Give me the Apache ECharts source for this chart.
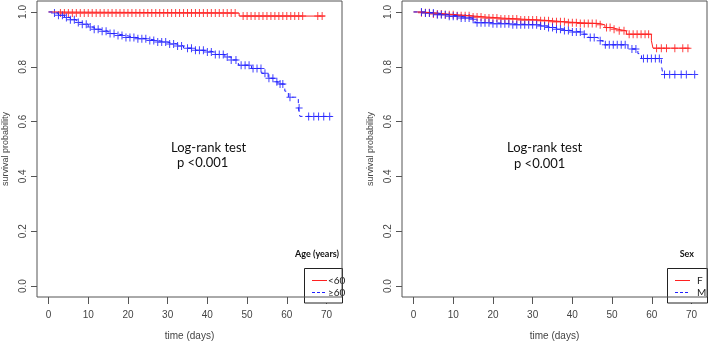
<!DOCTYPE html>
<html>
<head>
<meta charset="utf-8">
<script src="https://cdn.jsdelivr.net/npm/echarts@6/dist/echarts.min.js"></script>
<style>
  html, body { margin: 0; padding: 0; background: #fff; }
  #main { width: 708px; height: 346px; }
</style>
</head>
<body>
<div id="main"></div>
<script>
// --- data ---
var xTicks = [0, 10, 20, 30, 40, 50, 60, 70];
var yTicks = [0, 0.2, 0.4, 0.6, 0.8, 1.0];

// left panel: age groups
var ageLowTimes = [0, 3, 48];
var ageLowSurv = [1, 0.996, 0.985];
var ageLowEnd = 69.6;
var ageLowCensor = [3, 4, 5, 6, 7, 8, 9, 10, 11, 12, 13, 14, 15, 16, 17, 18, 19, 20, 21, 22, 23, 24, 25,
    26, 27, 28, 29, 30, 31, 32, 33, 34, 35, 36, 37, 38, 39, 40, 41, 42, 43, 44, 45, 46, 47, 49, 50, 51,
    52, 53, 54, 55, 56, 57, 58, 59, 60, 61, 62, 63, 64, 67.8, 68.9];

var ageHighTimes = [0, 1, 2.5, 4, 5.5, 7, 8.5, 10, 11.5, 13, 15, 17, 19.5, 22, 25, 27.5, 30, 32.5, 34,
    37, 39.4, 42, 44.4, 46, 47.8, 51.1, 53.7, 55.3, 57, 57.8, 59.5, 60.4, 62.9, 63.3];
var ageHighSurv = [1, 0.996, 0.988, 0.98, 0.972, 0.962, 0.955, 0.945, 0.937, 0.93, 0.921, 0.914, 0.907,
    0.902, 0.896, 0.89, 0.883, 0.876, 0.868, 0.86, 0.854, 0.845, 0.836, 0.825, 0.806, 0.794, 0.776,
    0.758, 0.745, 0.737, 0.711, 0.689, 0.65, 0.619];
var ageHighEnd = 71.3;
var ageHighCensor = [1.5, 2.5, 3.5, 4.5, 5.5, 6.5, 7.5, 8.5, 9.5, 10.5, 11.5, 12.5, 13.5, 14.5, 15.5,
    16.5, 17.5, 18.5, 19.5, 20.5, 21.5, 22.5, 23.5, 24.5, 25.5, 26.5, 27.5, 28.5, 29.5, 30.5, 31.5, 32.5,
    33.5, 35, 36, 37, 38, 39, 40, 41, 42, 43, 44, 45, 46, 47.2, 48.5, 49.5, 50.5, 51.5, 52.5, 53.5, 54.5,
    55.5, 56.5, 57.5, 58.3, 59, 60.8, 63.1, 65.5, 66.8, 68, 69.3, 70.8];

// right panel: sex
var sexFTimes = [0, 2, 5, 8, 11, 14.5, 18, 22, 27, 31.4, 35, 38.1, 42, 46.9, 48.2, 50, 51.5, 53.6, 59.9, 60.3];
var sexFSurv = [1, 0.997, 0.993, 0.99, 0.986, 0.982, 0.978, 0.974, 0.971, 0.968, 0.964, 0.961, 0.958,
    0.953, 0.943, 0.937, 0.931, 0.919, 0.895, 0.868];
var sexFEnd = 69.5;
var sexFCensor = [2, 3, 4, 5, 6, 7, 8, 9, 10, 11, 12, 13, 14, 15, 16, 17, 18, 19, 20, 21, 22, 23, 24, 25,
    26, 27, 28, 29, 30, 31, 32, 33, 34, 35, 36, 37, 38, 39, 40, 41, 42, 43, 44, 45, 46, 47, 48.6, 49.5,
    50.5, 51.8, 53, 54.3, 55.3, 56.3, 57.3, 58.3, 59.2, 61.2, 62.4, 63.7, 65.8, 67.8, 69.1];

var sexMTimes = [0, 3, 6, 9, 12, 14.7, 15.5, 20, 25, 31.4, 33.5, 35.6, 38, 39.8, 42.3, 44, 46.5, 47.7,
    54, 56.5, 57.4, 62.4, 62.8];
var sexMSurv = [1, 0.996, 0.99, 0.984, 0.978, 0.973, 0.961, 0.957, 0.953, 0.949, 0.943, 0.937, 0.932,
    0.927, 0.919, 0.907, 0.895, 0.88, 0.865, 0.848, 0.83, 0.806, 0.772];
var sexMEnd = 71.2;
var sexMCensor = [2, 3, 4, 5, 6, 7, 8, 9, 10, 11, 12, 13, 14, 15, 16, 17, 18, 19, 20, 21, 22, 23, 24,
    25, 26, 27, 28, 29, 30, 31, 32, 33, 34, 35, 36, 37, 38, 39, 40, 41, 42, 43, 44.5, 45.5, 47, 48.3,
    49.3, 50.3, 51.3, 52.3, 53.3, 55, 56, 57.9, 58.9, 59.9, 60.9, 61.9, 63.2, 64.5, 65.8, 67.4, 68.7, 70.8];

var ageLabels = ['<60', '\u226560'];
var sexLabels = ['F', 'M'];

// --- helpers ---
var RED = '#ff2020';
var BLUE = '#2020ff';
var plusPath = 'path://M3,0H4V8H3Z M0,3.5H7V4.5H0Z';

function buildSteps(times, surv, end) {
    var pts = times.map(function (t, i) { return [t, surv[i]]; });
    pts.push([end, surv[surv.length - 1]]);
    return pts;
}

function stepAt(times, surv, t) {
    var v = surv[0];
    for (var i = 0; i < times.length; i++) {
        if (times[i] <= t) v = surv[i];
    }
    return v;
}

function censorPoints(times, surv, cens) {
    return cens.map(function (t) { return [t, stepAt(times, surv, t)]; });
}

function lineSeries(idx, data, color, dashed) {
    return {
        type: 'line', xAxisIndex: idx, yAxisIndex: idx, step: 'end',
        showSymbol: false, data: data, animation: false, silent: true,
        lineStyle: { color: color, width: 1, type: dashed ? [4, 4] : 'solid' }
    };
}

function censorSeries(idx, data, color) {
    return {
        type: 'scatter', xAxisIndex: idx, yAxisIndex: idx, data: data,
        symbol: plusPath, symbolSize: [7, 8], animation: false, silent: true,
        itemStyle: { color: color, opacity: 0.85 }
    };
}

var tickFont = { fontFamily: 'Liberation Sans', fontSize: 10, color: '#444' };

function xAxisFor(idx) {
    return {
        type: 'value', gridIndex: idx, min: -2.9, max: 73.9,
        name: 'time (days)', nameLocation: 'middle', nameGap: 34,
        nameTextStyle: { fontFamily: 'Liberation Sans', fontSize: 10, color: '#444' },
        axisLine: { show: false, onZero: false },
        axisTick: { show: true, inside: false, length: 7, customValues: xTicks, lineStyle: { color: '#555' } },
        axisLabel: Object.assign({ margin: 13, customValues: xTicks }, tickFont),
        splitLine: { show: false }
    };
}

function yAxisFor(idx) {
    return {
        type: 'value', gridIndex: idx, min: -0.04, max: 1.04,
        name: 'survival probability', nameLocation: 'middle', nameGap: 27,
        nameTextStyle: { fontFamily: 'Liberation Sans', fontSize: 9, color: '#444' },
        axisLine: { show: false, onZero: false },
        axisTick: { show: true, inside: false, length: 6, customValues: yTicks, lineStyle: { color: '#555' } },
        axisLabel: Object.assign({
            rotate: 90, margin: 9, customValues: yTicks,
            formatter: function (v) { return v.toFixed(1); }
        }, tickFont),
        splitLine: { show: false }
    };
}

var gothic = 'Lato, "Noto Sans", sans-serif';

function noteText(x, y, txt) {
    return {
        type: 'text', left: x, top: y,
        style: { text: txt, font: '13px ' + gothic, fill: '#111' }
    };
}

function legendGroup(boxX, boxW, title, titleX, labels, lineX, textX) {
    return [
        { type: 'rect', shape: { x: boxX + 0.5, y: 268.5, width: boxW, height: 34.5 },
          style: { fill: '#fff', stroke: '#222', lineWidth: 1 }, z: 10 },
        { type: 'text', x: titleX, y: 254, z: 11,
          style: { text: title, font: 'bold 9px ' + gothic, fill: '#111', textAlign: 'right', textVerticalAlign: 'middle' } },
        { type: 'line', shape: { x1: lineX, y1: 280.5, x2: lineX + 15, y2: 280.5 }, z: 11,
          style: { stroke: RED, lineWidth: 1 } },
        { type: 'line', shape: { x1: lineX, y1: 292.5, x2: lineX + 15, y2: 292.5 }, z: 11,
          style: { stroke: BLUE, lineWidth: 1, lineDash: [3, 2] } },
        { type: 'text', x: textX, y: 280.5, z: 11,
          style: { text: labels[0], font: '10px ' + gothic, fill: '#222', textVerticalAlign: 'middle' } },
        { type: 'text', x: textX, y: 292.5, z: 11,
          style: { text: labels[1], font: '10px ' + gothic, fill: '#222', textVerticalAlign: 'middle' } }
    ];
}

var chart = echarts.init(document.getElementById('main'), null, { renderer: 'canvas' });

var option = {
    backgroundColor: '#fff',
    animation: false,
    grid: [
        { left: 37, top: 1, width: 305, height: 302, show: true, borderColor: '#555', borderWidth: 1, backgroundColor: 'transparent', z: 20 },
        { left: 402, top: 1, width: 305, height: 302, show: true, borderColor: '#555', borderWidth: 1, backgroundColor: 'transparent', z: 20 }
    ],
    xAxis: [xAxisFor(0), xAxisFor(1)],
    yAxis: [yAxisFor(0), yAxisFor(1)],
    series: [
        lineSeries(0, buildSteps(ageLowTimes, ageLowSurv, ageLowEnd), RED, false),
        lineSeries(0, buildSteps(ageHighTimes, ageHighSurv, ageHighEnd), BLUE, true),
        censorSeries(0, censorPoints(ageLowTimes, ageLowSurv, ageLowCensor), RED),
        censorSeries(0, censorPoints(ageHighTimes, ageHighSurv, ageHighCensor), BLUE),
        lineSeries(1, buildSteps(sexFTimes, sexFSurv, sexFEnd), RED, false),
        lineSeries(1, buildSteps(sexMTimes, sexMSurv, sexMEnd), BLUE, true),
        censorSeries(1, censorPoints(sexFTimes, sexFSurv, sexFCensor), RED),
        censorSeries(1, censorPoints(sexMTimes, sexMSurv, sexMCensor), BLUE)
    ],
    graphic: [
        noteText(171, 141, 'Log-rank test'),
        noteText(177, 156, 'p <0.001'),
        noteText(507, 141, 'Log-rank test'),
        noteText(514, 157, 'p <0.001')
    ].concat(
        legendGroup(304, 38, 'Age (years)', 339, ageLabels, 312, 328),
        legendGroup(667, 40, 'Sex', 694, sexLabels, 675, 697)
    )
};

chart.setOption(option);
</script>
</body>
</html>
